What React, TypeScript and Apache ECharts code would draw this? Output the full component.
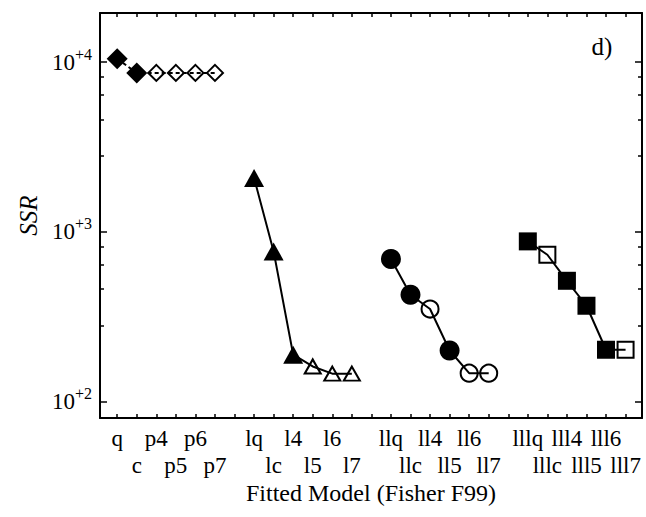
import React, { useEffect, useRef } from 'react';
import * as echarts from 'echarts';

// Category slots along the x axis ('' = empty gap slot between model families)
const xCategories = [
  'q', 'c', 'p4', 'p5', 'p6', 'p7', '',
  'lq', 'lc', 'l4', 'l5', 'l6', 'l7', '',
  'llq', 'llc', 'll4', 'll5', 'll6', 'll7', '',
  'lllq', 'lllc', 'lll4', 'lll5', 'lll6', 'lll7',
];

// Polynomial family (diamonds)
const pModels = ['q', 'c', 'p4', 'p5', 'p6', 'p7'];
const pSSR = [10470, 8650, 8650, 8650, 8650, 8650];
const pFilled = [true, true, false, false, false, false];

// l family (triangles)
const lModels = ['lq', 'lc', 'l4', 'l5', 'l6', 'l7'];
const lSSR = [2080, 767, 189, 161, 146, 146];
const lFilled = [true, true, true, false, false, false];

// ll family (circles)
const llModels = ['llq', 'llc', 'll4', 'll5', 'll6', 'll7'];
const llSSR = [692, 426, 351, 200, 147, 147];
const llFilled = [true, true, false, true, false, false];

// lll family (squares)
const lllModels = ['lllq', 'lllc', 'lll4', 'lll5', 'lll6', 'lll7'];
const lllSSR = [879, 733, 515, 367, 202, 202];
const lllFilled = [true, false, true, true, true, false];

const yMajorTicks = [100, 1000, 10000];
const yMinorTicks = [280, 460, 640, 820, 2800, 4600, 6400, 8200];

const FONT = 'Liberation Serif';
const X_MIN = -0.88;
const X_MAX = 26.84;
const Y_MIN = 80;
const Y_MAX = 19500;

const xTickValues = xCategories.map((_, i) => i);
// upper row: 1st, 3rd, 5th model of each family; lower row: 2nd, 4th, 6th
const xUpperRow = xCategories.map((c, i) => (c && (i % 7) % 2 === 0 ? i : -1)).filter((i) => i >= 0);
const xLowerRow = xCategories.map((c, i) => (c && (i % 7) % 2 === 1 ? i : -1)).filter((i) => i >= 0);

function makeSeries(
  models: string[],
  ssr: number[],
  filled: boolean[],
  symbol: string,
  filledSize: any,
  openSize: any,
  lineType: any
) {
  return {
    type: 'line',
    xAxisIndex: 0,
    yAxisIndex: 0,
    symbol,
    showSymbol: true,
    lineStyle: { color: '#000', width: 2, type: lineType },
    data: models.map((m, k) => ({
      value: [xCategories.indexOf(m), ssr[k]],
      symbolSize: filled[k] ? filledSize : openSize,
      itemStyle: filled[k]
        ? { color: '#000', borderColor: '#000', borderWidth: 0 }
        : { color: 'rgba(0,0,0,0)', borderColor: '#000', borderWidth: 2 },
    })),
    emphasis: { disabled: true },
    z: 3,
  };
}

export default function App() {
  const ref = useRef<HTMLDivElement>(null);

  useEffect(() => {
    if (!ref.current) return;
    const chart = echarts.init(ref.current, undefined, { renderer: 'svg' });

    const baseX = {
      type: 'value',
      min: X_MIN,
      max: X_MAX,
      splitLine: { show: false },
      axisLine: { show: true, onZero: false, lineStyle: { color: '#000', width: 2 } },
      axisTick: {
        show: true,
        inside: true,
        length: 4,
        customValues: xTickValues,
        lineStyle: { color: '#000', width: 1.5 },
      },
    };

    const rowLabel = (values: number[], margin: number) => ({
      show: true,
      customValues: values,
      showMinLabel: true,
      showMaxLabel: true,
      hideOverlap: false,
      margin,
      fontFamily: FONT,
      fontSize: 23,
      color: '#000',
      formatter: (v: number) => xCategories[Math.round(v)] || '',
    });

    const logY = (position: string, ticks: number[], len: number, showLine: boolean) => ({
      type: 'log',
      logBase: 10,
      position,
      min: Y_MIN,
      max: Y_MAX,
      splitLine: { show: false },
      axisLine: { show: showLine, onZero: false, lineStyle: { color: '#000', width: 2 } },
      axisTick: {
        show: true,
        inside: true,
        length: len,
        customValues: ticks,
        lineStyle: { color: '#000', width: 1.5 },
      },
      axisLabel: { show: false },
    });

    const option: any = {
      animation: false,
      backgroundColor: '#fff',
      grid: { left: 100, right: 4, top: 13, bottom: 99, containLabel: false },
      xAxis: [
        {
          ...baseX,
          position: 'bottom',
          name: 'Fitted Model (Fisher F99)',
          nameLocation: 'middle',
          nameGap: 63,
          nameTextStyle: { fontFamily: FONT, fontSize: 24, color: '#000' },
          axisLabel: rowLabel(xUpperRow, 9),
        },
        {
          ...baseX,
          position: 'top',
          axisLabel: { show: false },
        },
        {
          ...baseX,
          position: 'bottom',
          axisLine: { show: false, onZero: false },
          axisTick: { show: false },
          axisLabel: rowLabel(xLowerRow, 36),
        },
      ],
      yAxis: [
        {
          ...logY('left', yMajorTicks, 7, true),
          name: 'SSR',
          nameLocation: 'middle',
          nameGap: 56,
          nameRotate: 90,
          nameTextStyle: { fontFamily: FONT, fontSize: 25, fontStyle: 'italic', color: '#000' },
          axisLabel: {
            show: true,
            customValues: yMajorTicks,
            showMinLabel: true,
            showMaxLabel: true,
            margin: 8,
            color: '#000',
            formatter: (v: number) => `{b|10}{s|+${Math.round(Math.log10(v))}}`,
            rich: {
              b: { fontFamily: FONT, fontSize: 23, color: '#000' },
              s: { fontFamily: FONT, fontSize: 16, color: '#000', padding: [0, 0, 16, 0] },
            },
          },
        },
        logY('left', yMinorTicks, 4, false),
        logY('right', yMajorTicks, 7, true),
        logY('right', yMinorTicks, 4, false),
      ],
      graphic: [
        {
          type: 'text',
          x: 602,
          y: 46,
          style: {
            text: 'd)',
            fontFamily: FONT,
            fontSize: 25,
            fill: '#000',
            align: 'center',
            verticalAlign: 'middle',
          },
        },
      ],
      series: [
        makeSeries(pModels, pSSR, pFilled, 'diamond', 21, 16, [4, 3]),
        makeSeries(lModels, lSSR, lFilled, 'triangle', [20, 18], [16, 14], 'solid'),
        makeSeries(llModels, llSSR, llFilled, 'circle', 20, 17, 'solid'),
        makeSeries(lllModels, lllSSR, lllFilled, 'rect', 18, 16, 'solid'),
      ],
    };

    chart.setOption(option);
    return () => chart.dispose();
  }, []);

  return (
    <div
      ref={ref}
      style={{ position: 'fixed', left: 0, top: 0, width: 646, height: 517, background: '#fff' }}
    />
  );
}
